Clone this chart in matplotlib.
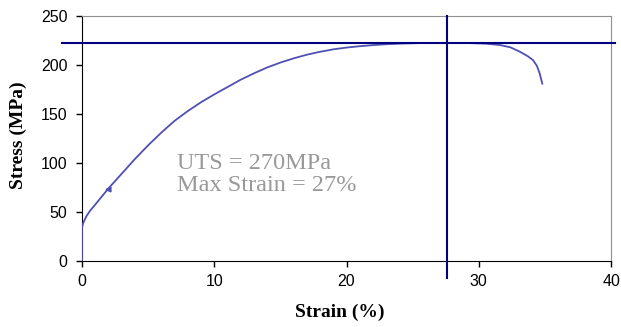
import matplotlib.pyplot as plt

# Curva esfuerzo-deformación
strain = [0, 0, 0.1, 0.35, 0.6, 1, 2, 3, 4, 5, 6, 7, 8, 9, 10, 11, 12, 13, 14,
          15, 16, 17, 18, 19, 20, 21, 22, 23, 24, 25, 26, 27.6, 29, 30.5, 31.6,
          32.4, 33.1, 33.7, 34.1, 34.4, 34.6, 34.8]
stress = [0, 34, 39, 46, 51, 57.5, 74, 89, 104, 118, 131, 143, 153, 162, 170,
          177.5, 185, 191.5, 197.5, 202.5, 206.8, 210.5, 213.5, 216, 217.8,
          219.2, 220.3, 221.2, 221.8, 222.2, 222.5, 222.6, 222.5, 221.8, 220.4,
          218, 213.6, 209, 205, 199, 191.5, 181]

# pequeño punto marcado sobre la curva
nub_strain = [1.95]
nub_stress = [73]

uts_line = 222.5
max_strain_line = 27.6
xticks = [0, 10, 20, 30, 40]
yticks = [0, 50, 100, 150, 200, 250]

fig = plt.figure(figsize=(6.21, 3.27), dpi=100)
ax = fig.add_axes([0.132, 0.202, 0.852, 0.749])

ax.plot(strain, stress, color='#4f4fb5', lw=1.3, zorder=3)
ax.plot(nub_strain, nub_stress, marker='<', ms=3.5, color='#4f4fb5', lw=0,
        zorder=3)
ax.plot([-1.5, 40.3], [uts_line, uts_line], color='#000080', lw=1.5,
        clip_on=False, zorder=4)
ax.plot([max_strain_line, max_strain_line], [-17, 250], color='#000080', lw=1.5,
        clip_on=False, zorder=4)

ax.set_xlim(0, 40)
ax.set_ylim(0, 250)
ax.set_xticks(xticks)
ax.set_yticks(yticks)
ax.tick_params(direction='out', length=4.5, width=1, labelsize=11.5)
ax.tick_params(axis='y', pad=6)
ax.tick_params(axis='x', pad=5)
for lab in ax.get_xticklabels() + ax.get_yticklabels():
    lab.set_family('Liberation Sans')

for s in ['top', 'right']:
    ax.spines[s].set_color('#909090')
for s in ['left', 'bottom']:
    ax.spines[s].set_color('black')

ax.set_xlabel('Strain (%)', family='Liberation Serif', fontweight='bold',
              fontsize=14)
ax.set_ylabel('Stress (MPa)', family='Liberation Serif', fontweight='bold',
              fontsize=14)
ax.xaxis.set_label_coords(0.487, -0.176)
ax.yaxis.set_label_coords(-0.104, 0.513)

ax.text(7.2, 110, 'UTS = 270MPa\nMax Strain = 27%', family='Liberation Serif',
        fontsize=17.5, color='#999999', va='top', ha='left', linespacing=1.05)

fig.savefig('out.png', dpi=100)
